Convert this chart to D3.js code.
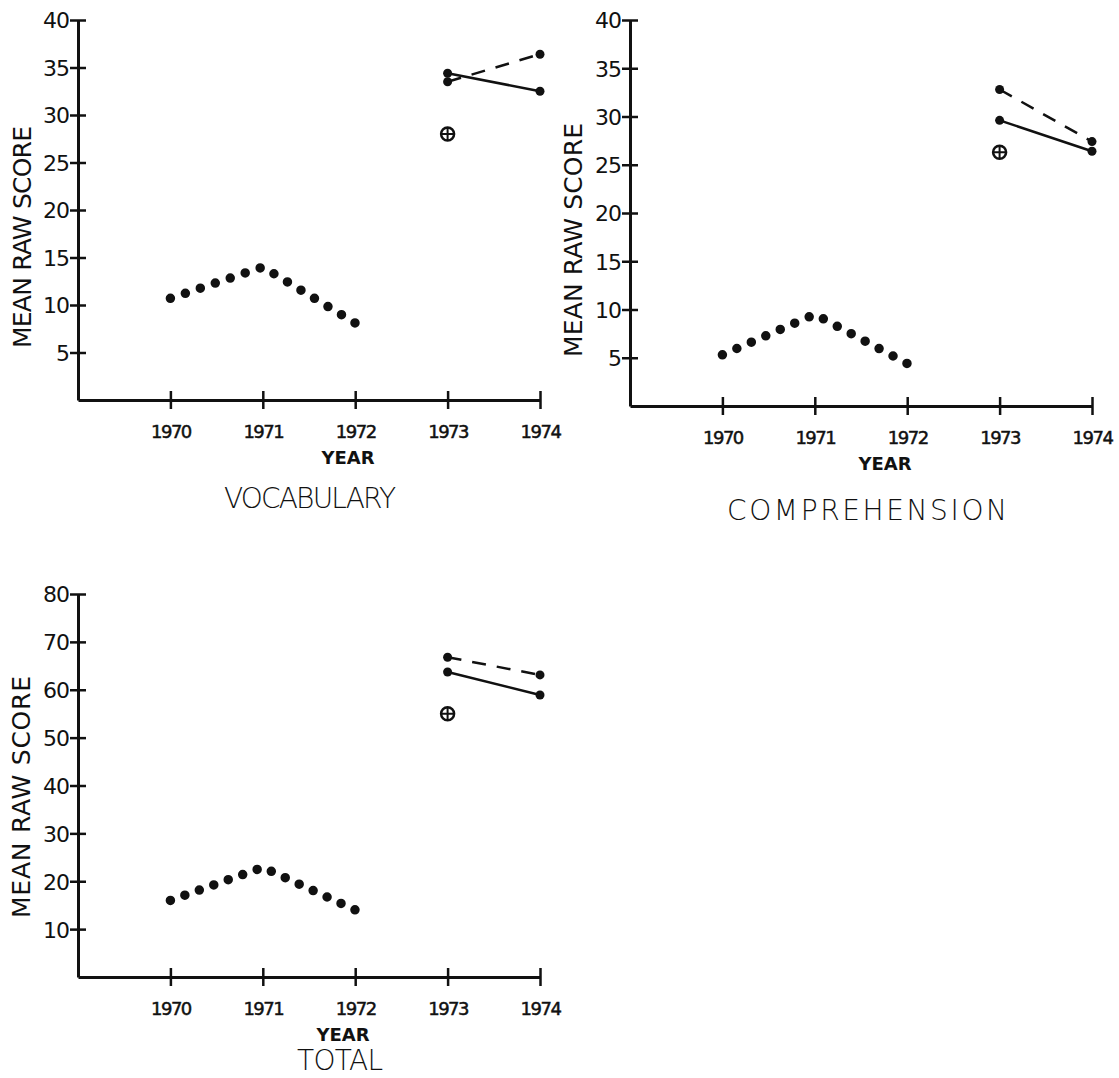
<!DOCTYPE html>
<html>
<head>
<meta charset="utf-8">
<script src="https://cdn.jsdelivr.net/npm/d3@7"></script>
<style>
  body { margin: 0; background: #fff; }
  svg { display: block; }
  text { font-family: "DejaVu Sans", sans-serif; fill: #111; }
</style>
</head>
<body>
<svg id="chart" width="1119" height="1078"></svg>
<script>
// data
var baseYears = [1970, 1971, 1972];
var laterYears = [1973, 1974];
var yearTicks = [1970, 1971, 1972, 1973, 1974];

var vocabDotted = [10.7, 14.0, 8.1];
var vocabSolid = [34.4, 32.5];
var vocabDashed = [33.5, 36.4];
var vocabCross = 28.0;

var compDotted = [5.3, 9.5, 4.4];
var compSolid = [29.6, 26.4];
var compDashed = [32.8, 27.4];
var compCross = 26.3;

var totalDotted = [16.0, 22.9, 14.0];
var totalSolid = [63.7, 58.9];
var totalDashed = [66.8, 63.1];
var totalCross = 55.0;

var subTicks = [5, 10, 15, 20, 25, 30, 35, 40];
var totalTicks = [10, 20, 30, 40, 50, 60, 70, 80];

var svg = d3.select("#chart");

// panel boxes
var panels = [
  {title: "VOCABULARY", left: 78, right: 540, top: 20, bottom: 400, yMax: 40, ticks: subTicks,
   dotted: vocabDotted, solid: vocabSolid, dashed: vocabDashed, cross: vocabCross,
   yearX: 348, titleX: 310, titleY: 508, titleLen: 172, labelX: 31, labelY: 237, labelLen: 222},
  {title: "COMPREHENSION", left: 630, right: 1092, top: 20, bottom: 406, yMax: 40, ticks: subTicks,
   dotted: compDotted, solid: compSolid, dashed: compDashed, cross: compCross,
   yearX: 885, titleX: 867, titleY: 520, titleLen: 280, labelX: 582, labelY: 240, labelLen: 234},
  {title: "TOTAL", left: 78, right: 540, top: 594, bottom: 977, yMax: 80, ticks: totalTicks,
   dotted: totalDotted, solid: totalSolid, dashed: totalDashed, cross: totalCross,
   yearX: 343, titleX: 340, titleY: 1070, titleLen: 86, labelX: 30, labelY: 797, labelLen: 242}
];

panels.forEach(drawPanel);

function drawPanel(p) {
  var x = d3.scaleLinear().domain([1969, 1974]).range([p.left, p.right]);
  var y = d3.scaleLinear().domain([0, p.yMax]).range([p.bottom, p.top]);
  var g = svg.append("g");

  // y axis, ticks cross the line
  var ya = g.append("g")
      .attr("transform", "translate(" + p.left + ",0)")
      .call(d3.axisLeft(y).tickValues(p.ticks).tickSize(8).tickSizeOuter(0).tickPadding(1));
  ya.selectAll(".tick line").attr("x1", -8).attr("x2", 8).attr("stroke", "#111").attr("stroke-width", 2.5);
  ya.select(".domain").attr("stroke", "#111").attr("stroke-width", 3);
  ya.selectAll(".tick text").attr("font-size", 22).attr("fill", "#111").attr("dy", "0.36em")
      .attr("letter-spacing", -1);

  // x axis
  var xa = g.append("g")
      .attr("transform", "translate(0," + p.bottom + ")")
      .call(d3.axisBottom(x).tickValues(yearTicks).tickFormat(d3.format("d")).tickSize(8).tickSizeOuter(0).tickPadding(17));
  xa.selectAll(".tick line").attr("y1", -9).attr("y2", 9).attr("stroke", "#111").attr("stroke-width", 2.5);
  xa.select(".domain").attr("stroke", "#111").attr("stroke-width", 3);
  xa.selectAll(".tick text").attr("font-size", 18).attr("fill", "#111").attr("letter-spacing", -1.5)
      .attr("stroke", "#111").attr("stroke-width", 0.5);

  g.append("text")
      .attr("x", p.yearX).attr("y", p.bottom + 64)
      .attr("text-anchor", "middle").attr("font-size", 18).attr("font-weight", "bold")
      .text("YEAR");

  g.append("text")
      .attr("x", p.titleX).attr("y", p.titleY)
      .attr("text-anchor", "middle").attr("font-size", 28).attr("font-weight", 300)
      .attr("textLength", p.titleLen).attr("lengthAdjust", "spacing")
      .text(p.title);

  g.append("text")
      .attr("transform", "translate(" + p.labelX + "," + p.labelY + ") rotate(-90)")
      .attr("text-anchor", "middle").attr("font-size", 25)
      .attr("textLength", p.labelLen).attr("lengthAdjust", "spacing")
      .text("MEAN RAW SCORE");

  // dotted series 1970-1972, dots spaced so the last one lands on 1972
  var line = d3.line().x(d => x(d[0])).y(d => y(d[1]));
  var dotted = baseYears.map((yr, i) => [yr, p.dotted[i]]);
  var dp = g.append("path")
      .attr("d", line(dotted))
      .attr("fill", "none").attr("stroke", "#111")
      .attr("stroke-width", 9.5).attr("stroke-linecap", "round");
  var len = dp.node().getTotalLength();
  var gap = len / Math.round(len / 15.5);
  dp.attr("stroke-dasharray", "0," + (gap - 0.02).toFixed(3));

  // 1973-1974 solid and dashed
  var solid = laterYears.map((yr, i) => [yr, p.solid[i]]);
  var dashed = laterYears.map((yr, i) => [yr, p.dashed[i]]);
  g.append("path").attr("d", line(solid))
      .attr("fill", "none").attr("stroke", "#111").attr("stroke-width", 2.5);
  g.append("path").attr("d", line(dashed))
      .attr("fill", "none").attr("stroke", "#111").attr("stroke-width", 2.5)
      .attr("stroke-dasharray", "14,11");
  g.selectAll(".endpt")
      .data(solid.concat(dashed))
      .enter().append("circle")
      .attr("cx", d => x(d[0])).attr("cy", d => y(d[1]))
      .attr("r", 4.5).attr("fill", "#111");

  // circled plus at 1973
  var cx = x(1973), cy = y(p.cross);
  g.append("circle").attr("cx", cx).attr("cy", cy).attr("r", 6.5)
      .attr("fill", "none").attr("stroke", "#111").attr("stroke-width", 2.5);
  g.append("path")
      .attr("d", "M" + (cx - 6.5) + "," + cy + "H" + (cx + 6.5) + "M" + cx + "," + (cy - 6.5) + "V" + (cy + 6.5))
      .attr("stroke", "#111").attr("stroke-width", 2);
}
</script>
</body>
</html>
